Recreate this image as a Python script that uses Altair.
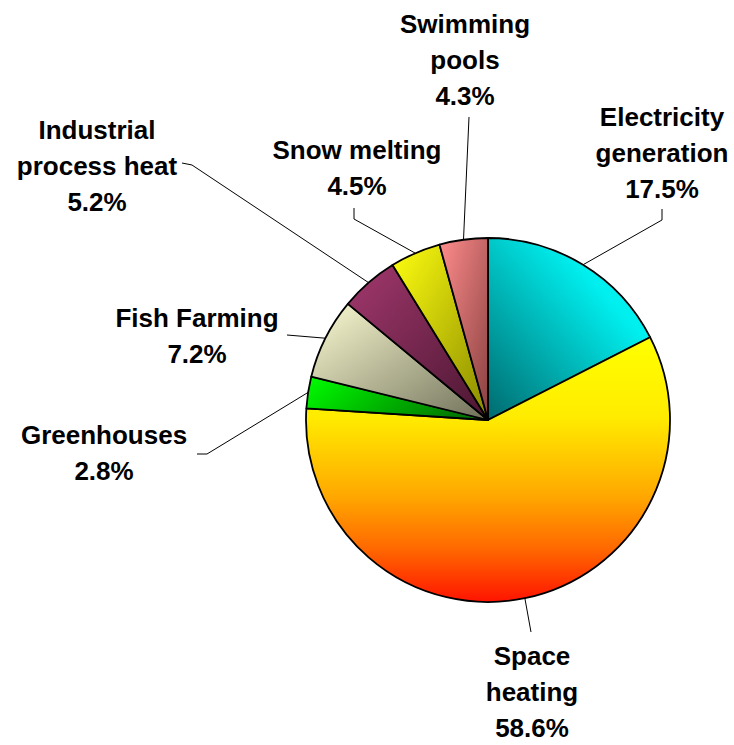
import altair as alt
import pandas as pd

# Geothermal direct-use shares, clockwise from 12 o'clock
CATEGORIES = [
    "Electricity\ngeneration",
    "Space\nheating",
    "Greenhouses",
    "Fish Farming",
    "Industrial\nprocess heat",
    "Snow melting",
    "Swimming\npools",
]
SHARES = [17.5, 58.6, 2.8, 7.2, 5.2, 4.5, 4.3]

# Pie geometry (pixels)
CX, CY, R = 488, 420, 182

# Label anchors (first baseline) and leader-line elbow/end points, in pixels
LABEL_X = [662, 532, 104, 197, 97, 357, 465]
LABEL_Y = [126, 665, 444, 327, 139, 159, 33]
ELBOW_X = [662, 531, 207, 287, 192, 354, 469]
ELBOW_Y = [220, 632, 454, 335, 165, 219, 117]
END_X = [662, 531, 197, 287, 182, 354, 469]
END_Y = [209, 632, 454, 335, 163, 208, 117]


def grad(c0, c1, x1=0, y1=0, x2=1, y2=1, mid=None):
    stops = [alt.GradientStop(color=c0, offset=0)]
    if mid:
        stops += [alt.GradientStop(color=c, offset=o) for o, c in mid]
    stops.append(alt.GradientStop(color=c1, offset=1))
    return alt.Gradient(gradient="linear", stops=stops, x1=x1, y1=y1, x2=x2, y2=y2)


FILLS = [
    grad("#006a6e", "#00ffff", x1=0, y1=1, x2=1, y2=0, mid=[(0.7, "#00eeee")]),
    grad("#ffff00", "#ff1400", x1=0, y1=0, x2=0, y2=1,
         mid=[(0.3, "#ffec00"), (0.6, "#ffa800"), (0.8, "#ff6800")]),
    grad("#00ff00", "#007800", x1=0, y1=0, x2=1, y2=0.3),
    grad("#fbfbd2", "#70705a"),
    grad("#a2386e", "#4a1630"),
    grad("#ffff10", "#888800"),
    grad("#ff8c8c", "#884040"),
]

df = pd.DataFrame({
    "idx": list(range(len(CATEGORIES))),
    "cat": CATEGORIES,
    "share": SHARES,
    "lx": LABEL_X, "ly": LABEL_Y,
    "bx": ELBOW_X, "by": ELBOW_Y,
    "fx": END_X, "fy": END_Y,
})

base = (
    alt.Chart(df)
    .transform_joinaggregate(total="sum(share)")
    .transform_window(cum="sum(share)", sort=[alt.SortField("idx")], frame=[None, 0])
    .transform_calculate(
        t0="(datum.cum - datum.share) / datum.total",
        t1="datum.cum / datum.total",
    )
    .transform_calculate(mid="PI * (datum.t0 + datum.t1)")
    .transform_calculate(
        ex=f"{CX} + {R} * sin(datum.mid)",
        ey=f"{CY} - {R} * cos(datum.mid)",
        label="datum.cat + '\\n' + format(datum.share, '.1f') + '%'",
    )
)

theta_scale = alt.Scale(domain=[0, 1], range=[0, 6.283185307179586])

slices = [
    base.transform_filter(alt.datum.idx == i)
    .mark_arc(radius=R, x=CX, y=CY, fill=FILLS[i], stroke="black",
              strokeWidth=1.8, strokeJoin="round")
    .encode(
        theta=alt.Theta("t0:Q", scale=theta_scale, stack=False),
        theta2=alt.Theta2("t1:Q"),
    )
    for i in range(len(CATEGORIES))
]

px = dict(scale=None, axis=None)

leader_a = base.mark_rule(color="black", strokeWidth=1).encode(
    x=alt.X("ex:Q", **px), y=alt.Y("ey:Q", **px),
    x2=alt.X2("bx:Q"), y2=alt.Y2("by:Q"),
)
leader_b = base.mark_rule(color="black", strokeWidth=1).encode(
    x=alt.X("bx:Q", **px), y=alt.Y("by:Q", **px),
    x2=alt.X2("fx:Q"), y2=alt.Y2("fy:Q"),
)

labels = base.mark_text(
    font="Liberation Sans", fontWeight="bold", fontSize=26, color="black",
    align="center", baseline="alphabetic", lineBreak="\n", lineHeight=36,
).encode(
    x=alt.X("lx:Q", **px), y=alt.Y("ly:Q", **px), text="label:N",
)

chart = (
    alt.layer(leader_a, leader_b, *slices, labels)
    .properties(width=734, height=745, autosize="none", padding=0, background="white")
    .configure_view(strokeWidth=0)
)

chart.save("out.html", embed_options={"renderer": "svg", "actions": False})
